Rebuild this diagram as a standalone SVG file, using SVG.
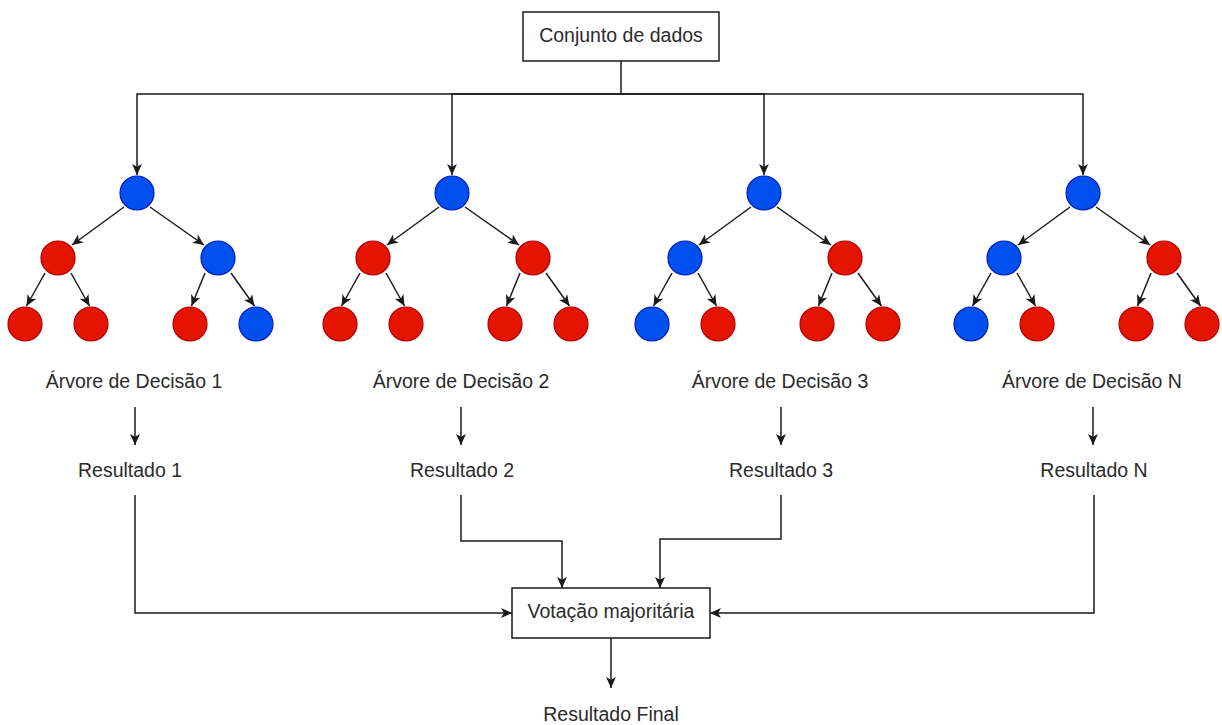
<svg xmlns="http://www.w3.org/2000/svg" width="1222" height="725" viewBox="0 0 1222 725">
  <style>
    .bg { fill: #ffffff; }
    .box { fill: #ffffff; stroke: #1a1a1a; stroke-width: 1.5; }
    .lbl { font-family: "Liberation Sans", Arial, sans-serif; font-size: 19.5px; fill: #2b2b2b; text-anchor: middle; }
    .edge { fill: none; stroke: #1a1a1a; stroke-width: 1.5; marker-end: url(#arrow); }
    .blue { fill: #0050ef; stroke: #001dbc; stroke-width: 1.2; }
    .red { fill: #e51400; stroke: #b20000; stroke-width: 1.2; }
  </style>
  <defs>
    <marker id="arrow" viewBox="0 0 10 10" refX="10" refY="5" markerWidth="11" markerHeight="11" markerUnits="userSpaceOnUse" orient="auto">
      <path d="M0,0.5 L10,5 L0,9.5 L2.6,5 Z" fill="#1a1a1a"/>
    </marker>
  </defs>
  <rect class="bg" x="0" y="0" width="1222" height="725"/>

  <!-- connectors -->
  <g id="connectors">
    <!-- dataset to the four tree roots -->
    <path class="edge" d="M621,61 V94 H137 V175"/>
    <path class="edge" d="M621,94 H452 V175"/>
    <path class="edge" d="M621,94 H764 V175"/>
    <path class="edge" d="M621,94 H1083 V175"/>

    <!-- tree 1 -->
    <path class="edge" d="M124,207 L72,245"/>
    <path class="edge" d="M150,207 L204,245"/>
    <path class="edge" d="M45,273 L26.5,306"/>
    <path class="edge" d="M71,273 L89.5,306"/>
    <path class="edge" d="M205,273 L191.5,306"/>
    <path class="edge" d="M231,273 L254.5,306"/>

    <!-- tree 2 -->
    <path class="edge" d="M439,207 L387,245"/>
    <path class="edge" d="M465,207 L519,245"/>
    <path class="edge" d="M360,273 L341.5,306"/>
    <path class="edge" d="M386,273 L404.5,306"/>
    <path class="edge" d="M520,273 L506.5,306"/>
    <path class="edge" d="M546,273 L569.5,306"/>

    <!-- tree 3 -->
    <path class="edge" d="M751,207 L699,245"/>
    <path class="edge" d="M777,207 L831,245"/>
    <path class="edge" d="M672,273 L653.5,306"/>
    <path class="edge" d="M698,273 L716.5,306"/>
    <path class="edge" d="M832,273 L818.5,306"/>
    <path class="edge" d="M858,273 L881.5,306"/>

    <!-- tree N -->
    <path class="edge" d="M1070,207 L1018,245"/>
    <path class="edge" d="M1096,207 L1150,245"/>
    <path class="edge" d="M991,273 L972.5,306"/>
    <path class="edge" d="M1017,273 L1035.5,306"/>
    <path class="edge" d="M1151,273 L1137.5,306"/>
    <path class="edge" d="M1177,273 L1200.5,306"/>

    <!-- tree label to result -->
    <path class="edge" d="M135,407 V445"/>
    <path class="edge" d="M461,407 V445"/>
    <path class="edge" d="M781,407 V445"/>
    <path class="edge" d="M1093,407 V445"/>

    <!-- results to majority vote -->
    <path class="edge" d="M135,495 V613 H512"/>
    <path class="edge" d="M461,495 V541 H562 V588"/>
    <path class="edge" d="M781,495 V539 H660 V588"/>
    <path class="edge" d="M1094,495 V613 H710"/>

    <!-- vote to final result -->
    <path class="edge" d="M611,638 V688"/>
  </g>

  <!-- dataset -->
  <g id="dataset">
    <rect class="box" x="523" y="12" width="196" height="49"/>
    <text class="lbl" x="621" y="42">Conjunto de dados</text>
  </g>

  <!-- tree 1 -->
  <g id="tree1-root"><circle class="blue" cx="137" cy="193" r="17"/></g>
  <g id="tree1-left"><circle class="red" cx="58" cy="258" r="17"/></g>
  <g id="tree1-right"><circle class="blue" cx="218" cy="258" r="17"/></g>
  <g id="tree1-leaf1"><circle class="red" cx="25" cy="324" r="17"/></g>
  <g id="tree1-leaf2"><circle class="red" cx="91" cy="324" r="17"/></g>
  <g id="tree1-leaf3"><circle class="red" cx="190" cy="324" r="17"/></g>
  <g id="tree1-leaf4"><circle class="blue" cx="256" cy="324" r="17"/></g>

  <!-- tree 2 -->
  <g id="tree2-root"><circle class="blue" cx="452" cy="193" r="17"/></g>
  <g id="tree2-left"><circle class="red" cx="373" cy="258" r="17"/></g>
  <g id="tree2-right"><circle class="red" cx="533" cy="258" r="17"/></g>
  <g id="tree2-leaf1"><circle class="red" cx="340" cy="324" r="17"/></g>
  <g id="tree2-leaf2"><circle class="red" cx="406" cy="324" r="17"/></g>
  <g id="tree2-leaf3"><circle class="red" cx="505" cy="324" r="17"/></g>
  <g id="tree2-leaf4"><circle class="red" cx="571" cy="324" r="17"/></g>

  <!-- tree 3 -->
  <g id="tree3-root"><circle class="blue" cx="764" cy="193" r="17"/></g>
  <g id="tree3-left"><circle class="blue" cx="685" cy="258" r="17"/></g>
  <g id="tree3-right"><circle class="red" cx="845" cy="258" r="17"/></g>
  <g id="tree3-leaf1"><circle class="blue" cx="652" cy="324" r="17"/></g>
  <g id="tree3-leaf2"><circle class="red" cx="718" cy="324" r="17"/></g>
  <g id="tree3-leaf3"><circle class="red" cx="817" cy="324" r="17"/></g>
  <g id="tree3-leaf4"><circle class="red" cx="883" cy="324" r="17"/></g>

  <!-- tree N -->
  <g id="treeN-root"><circle class="blue" cx="1083" cy="193" r="17"/></g>
  <g id="treeN-left"><circle class="blue" cx="1004" cy="258" r="17"/></g>
  <g id="treeN-right"><circle class="red" cx="1164" cy="258" r="17"/></g>
  <g id="treeN-leaf1"><circle class="blue" cx="971" cy="324" r="17"/></g>
  <g id="treeN-leaf2"><circle class="red" cx="1037" cy="324" r="17"/></g>
  <g id="treeN-leaf3"><circle class="red" cx="1136" cy="324" r="17"/></g>
  <g id="treeN-leaf4"><circle class="red" cx="1202" cy="324" r="17"/></g>

  <!-- tree labels -->
  <g id="label-tree1"><text class="lbl" x="134" y="388">Árvore de Decisão 1</text></g>
  <g id="label-tree2"><text class="lbl" x="461" y="388">Árvore de Decisão 2</text></g>
  <g id="label-tree3"><text class="lbl" x="780" y="388">Árvore de Decisão 3</text></g>
  <g id="label-treeN"><text class="lbl" x="1092" y="388">Árvore de Decisão N</text></g>

  <!-- results -->
  <g id="result1"><text class="lbl" x="130" y="477">Resultado 1</text></g>
  <g id="result2"><text class="lbl" x="462" y="477">Resultado 2</text></g>
  <g id="result3"><text class="lbl" x="781" y="477">Resultado 3</text></g>
  <g id="resultN"><text class="lbl" x="1094" y="477">Resultado N</text></g>

  <!-- majority vote -->
  <g id="vote">
    <rect class="box" x="512" y="588" width="198" height="50"/>
    <text class="lbl" x="611" y="618">Votação majoritária</text>
  </g>

  <!-- final result -->
  <g id="final-result"><text class="lbl" x="611" y="721">Resultado Final</text></g>
</svg>
